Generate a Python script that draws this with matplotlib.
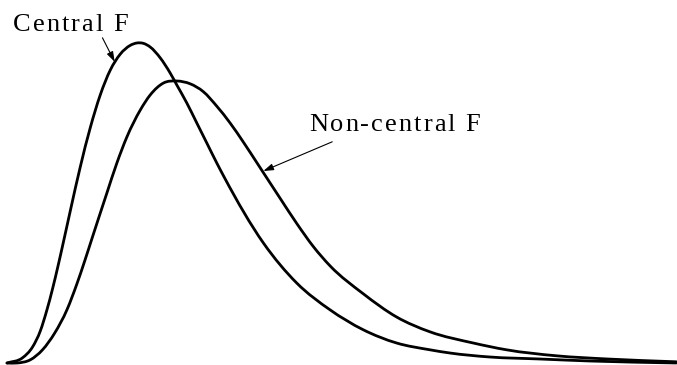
import matplotlib
matplotlib.use("Agg")
import matplotlib.pyplot as plt
import numpy as np
from matplotlib.path import Path
from matplotlib.patches import PathPatch

# Central F density
central_x = [0.00, 0.14, 0.23, 0.30, 0.36, 0.41, 0.46, 0.50, 0.57, 0.66, 0.75, 0.84,
             0.93, 1.02, 1.11, 1.17, 1.23, 1.29, 1.38, 1.47, 1.53, 1.62, 1.71, 1.80, 1.89,
             1.96, 2.31, 2.61, 2.91, 3.21, 3.51, 3.81, 3.99, 4.35, 4.80, 5.25, 6.03]
central_y = [0.000, 0.013, 0.040, 0.080, 0.133, 0.185, 0.243, 0.292, 0.380, 0.490, 0.588, 0.670,
             0.732, 0.772, 0.794, 0.800, 0.799, 0.790, 0.763, 0.725, 0.695, 0.650, 0.600, 0.550, 0.500,
             0.463, 0.300, 0.200, 0.133, 0.083, 0.050, 0.033, 0.025, 0.015, 0.010, 0.005, 0.000]

# Non-central F density
noncentral_x = [0.00, 0.09, 0.21, 0.32, 0.43, 0.54, 0.63, 0.70, 0.77, 0.90, 0.99, 1.08,
                1.20, 1.29, 1.41, 1.53, 1.65, 1.77, 1.89, 2.01, 2.13, 2.26, 2.46, 2.61,
                2.76, 2.91, 3.21, 3.51, 3.81, 4.20, 4.50, 4.95, 5.41, 6.03]
noncentral_y = [0.000, 0.000, 0.008, 0.033, 0.075, 0.133, 0.198, 0.255, 0.315, 0.425, 0.500, 0.565,
                0.632, 0.670, 0.700, 0.705, 0.698, 0.678, 0.642, 0.600, 0.552, 0.497, 0.412, 0.349,
                0.291, 0.243, 0.173, 0.115, 0.078, 0.050, 0.033, 0.018, 0.010, 0.003]

W, H, DPI = 6.77, 3.65, 100
fig = plt.figure(figsize=(W, H), dpi=DPI)
ax = fig.add_axes([0, 0, 1, 1])
ax.set_xlim(-0.063, 6.036)
ax.set_ylim(-0.005, 0.9075)
ax.axis("off")


def smooth_curve(xs, ys):
    # cubic Hermite bezier through the read points, slopes from neighbours
    x = np.asarray(xs, float)
    y = np.asarray(ys, float)
    m = np.gradient(y, x)
    verts = [(x[0], y[0])]
    codes = [Path.MOVETO]
    for i in range(len(x) - 1):
        d = (x[i + 1] - x[i]) / 3
        verts += [(x[i] + d, y[i] + m[i] * d), (x[i + 1] - d, y[i + 1] - m[i + 1] * d),
                  (x[i + 1], y[i + 1])]
        codes += [Path.CURVE4] * 3
    ax.add_patch(PathPatch(Path(verts, codes), fill=False, edgecolor="black",
                           lw=2.0, capstyle="round", joinstyle="round"))


smooth_curve(central_x, central_y)
smooth_curve(noncentral_x, noncentral_y)

# pointer arrows
arrow = dict(arrowstyle="-|>,head_length=0.6,head_width=0.2", color="black",
             lw=0.8, shrinkA=0, shrinkB=0, mutation_scale=10)
ax.annotate("", xy=(0.97, 0.753), xytext=(0.86, 0.813), arrowprops=arrow)
ax.annotate("", xy=(2.31, 0.480), xytext=(2.93, 0.553), arrowprops=arrow)


def spaced_text(x, y, s, spacing_px=2.0, size=19):
    # letter-spaced label, drawn one glyph at a time
    renderer = fig.canvas.get_renderer()
    px, py = ax.transData.transform((x, y))
    for ch in s:
        t = fig.text(px / (W * DPI), py / (H * DPI), ch, family="Liberation Serif",
                     fontsize=size, va="baseline", ha="left")
        w, _, _ = renderer.get_text_width_height_descent(ch, t.get_fontproperties(), ismath=False)
        px += w + spacing_px


spaced_text(0.054, 0.83, "Central F")
spaced_text(2.72, 0.58, "Non-central F")

fig.savefig("out.png", dpi=DPI)
